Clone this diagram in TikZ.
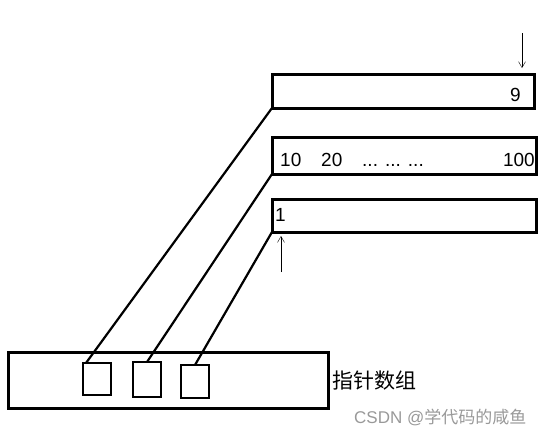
\documentclass[tikz,border=0pt]{standalone}
\usepackage{fontspec}
\setmainfont{Liberation Sans}
\newfontfamily\cjk{Noto Sans CJK SC}
\usepackage{tikz}
\usetikzlibrary{arrows.meta,positioning}

\begin{document}
\begin{tikzpicture}[x=1pt,y=-1pt,
  cell/.style={draw,line width=3pt,shape=rectangle,inner sep=0pt,outer sep=0pt},
  slot/.style={draw,line width=2.6pt,shape=rectangle,inner sep=0pt,outer sep=0pt,minimum width=28pt},
  num/.style={inner sep=0pt,font=\fontsize{19}{19}\selectfont},
  link/.style={line width=2.2pt},
  arr/.style={thin,-{Straight Barb[length=6pt,width=7pt]}}]
\useasboundingbox (0,0) rectangle (560,437);
% the three arrays
\node[cell,minimum width=262pt,minimum height=34pt] (top) at (403,91) {};
\node[cell,minimum width=264pt,minimum height=37pt] (mid) at (404,155.5) {};
\node[cell,minimum width=264pt,minimum height=33pt] (low) at (404,215.5) {};
\node[num,anchor=east] (nine) at (521,95) {9};
\node[num,anchor=west] (ten) at (280,160) {10};
\node[num,anchor=west] (twenty) at (321,160) {20};
\node[num,anchor=base west] (dots) at (362,166) {{.}{.}{.} {.}{.}{.} {.}{.}{.}};
\node[num,anchor=east] (hundred) at (535,160) {100};
\node[num,anchor=west] (one) at (275,215) {1};
% pointer array
\node[cell,minimum width=320pt,minimum height=56pt] (ptrs) at (168,380) {};
\node[slot,minimum height=32pt] (p1) at (97,379) {};
\node[slot,minimum height=35pt] (p2) at (147,379.5) {};
\node[slot,minimum height=33pt] (p3) at (195,381.5) {};
\node[anchor=west,inner sep=0pt,font=\cjk\fontsize{21}{21}\selectfont] (name) at (332,381) {指针数组};
% links
\draw[link] ([xshift=3pt]p1.north west) -- (top.south west);
\draw[link] (p2.north) -- (mid.south west);
\draw[link] (p3.north) -- (low.south west);
% markers
\coordinate (endtop) at (522,33);
\coordinate (endtip) at (522,68);
\coordinate (begbot) at (281,272);
\coordinate (begtip) at (281,236);
\draw[arr] (endtop) -- (endtip);
\draw[arr] (begbot) -- (begtip);
\node[anchor=west,inner sep=0pt,text=black!40,font=\fontsize{17}{17}\selectfont] (mark) at (354,417) {CSDN @{\cjk 学代码的咸鱼}};
\end{tikzpicture}
\end{document}
